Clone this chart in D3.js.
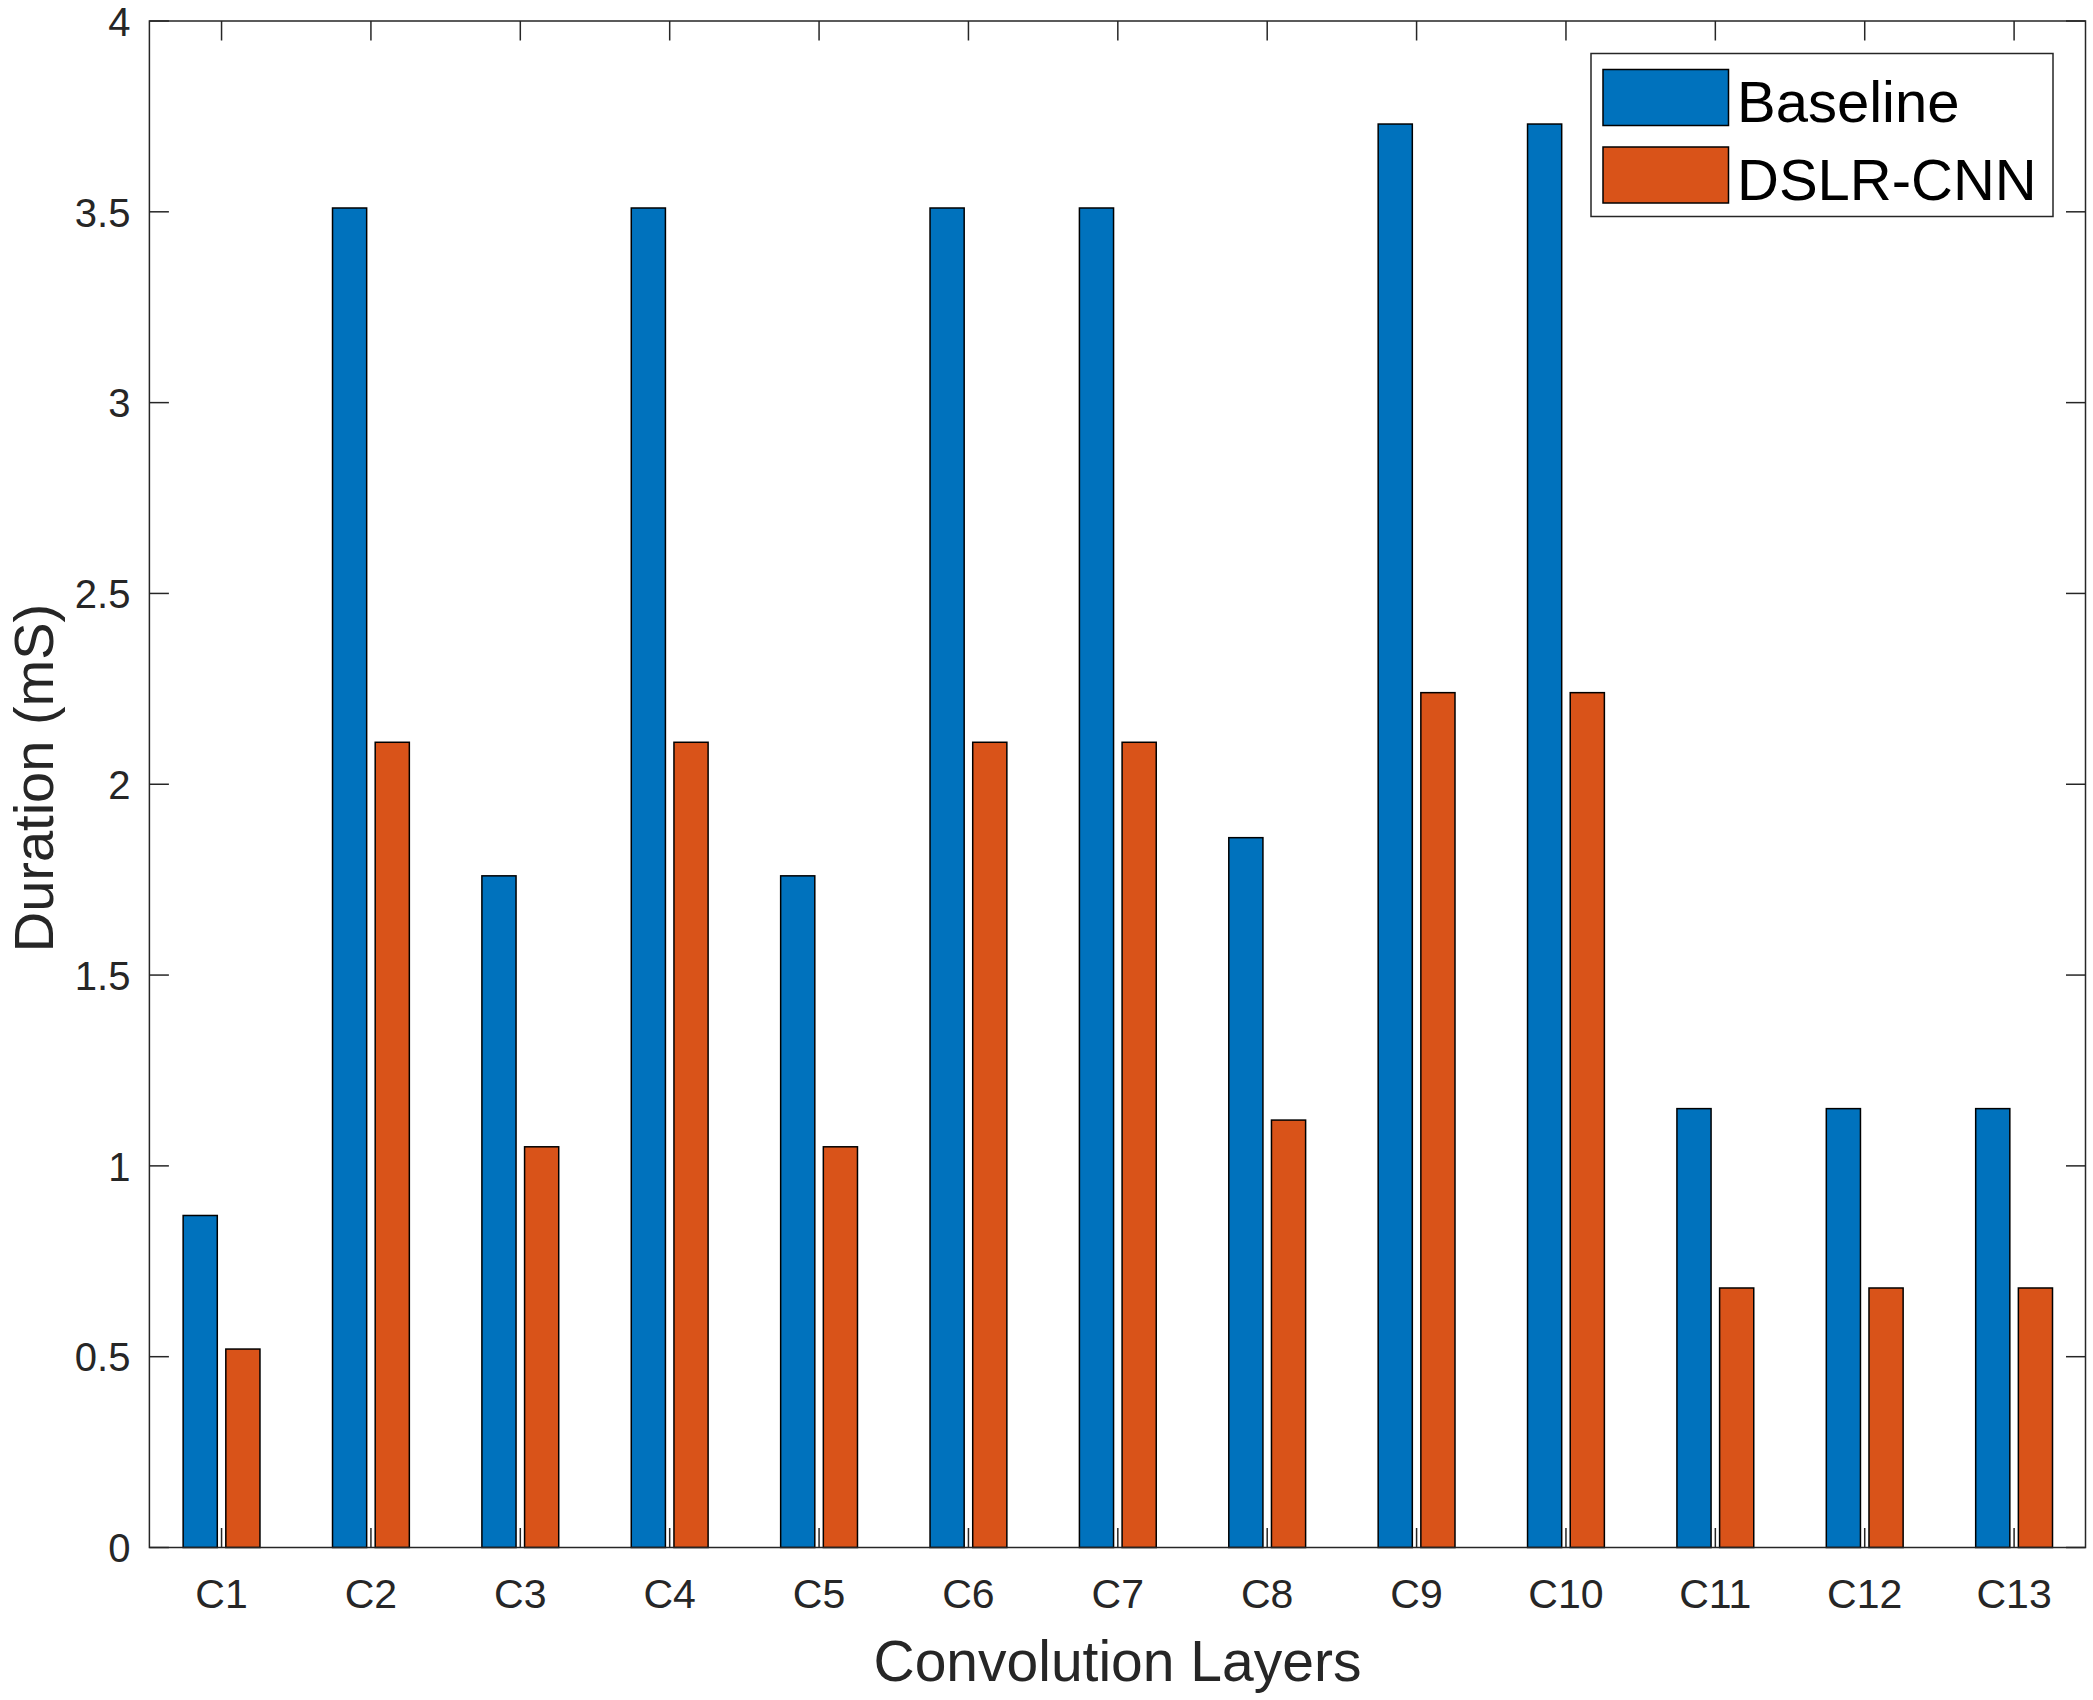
<!DOCTYPE html>
<html>
<head>
<meta charset="utf-8">
<script src="https://cdn.jsdelivr.net/npm/d3@7"></script>
<style>
  html, body { margin: 0; padding: 0; background: #fff; }
  svg { display: block; }
  text { font-family: "Liberation Sans", Arial, Helvetica, sans-serif; }
</style>
</head>
<body>
<svg id="chart" width="2093" height="1700"></svg>
<script>
const categories = ["C1","C2","C3","C4","C5","C6","C7","C8","C9","C10","C11","C12","C13"];
const baselineValues = [0.87, 3.51, 1.76, 3.51, 1.76, 3.51, 3.51, 1.86, 3.73, 3.73, 1.15, 1.15, 1.15];
const dslrValues     = [0.52, 2.11, 1.05, 2.11, 1.05, 2.11, 2.11, 1.12, 2.24, 2.24, 0.68, 0.68, 0.68];
const seriesNames = ["Baseline", "DSLR-CNN"];
const seriesColors = ["#0072BD", "#D95319"];
const yTicks = [0, 0.5, 1, 1.5, 2, 2.5, 3, 3.5, 4];
const yTickLabels = ["0", "0.5", "1", "1.5", "2", "2.5", "3", "3.5", "4"];
const xTitle = "Convolution Layers";
const yTitle = "Duration (mS)";

const svg = d3.select("#chart");
const L = 149.4, R = 2085.5, T = 21, B = 1547.5;
const axisColor = "#262626";

const x = d3.scaleLinear().domain([0.517, 13.478]).range([L, R]);
const y = d3.scaleLinear().domain([0, 4]).range([B, T]);

// MATLAB grouped bar geometry (2 series)
const groupWidth = Math.min(0.8, 2 / (2 + 1.5));
const barW = groupWidth / 2 * 0.8;
const offsets = [-groupWidth / 4, groupWidth / 4];

const series = [baselineValues, dslrValues];
const gBars = svg.append("g");
series.forEach((vals, si) => {
  gBars.selectAll(null).data(vals).enter().append("rect")
    .attr("x", (d, i) => x(i + 1 + offsets[si] - barW / 2))
    .attr("width", (d, i) => x(i + 1 + offsets[si] + barW / 2) - x(i + 1 + offsets[si] - barW / 2))
    .attr("y", d => y(d))
    .attr("height", d => y(0) - y(d))
    .attr("fill", seriesColors[si])
    .attr("stroke", "#000")
    .attr("stroke-width", 1.5);
});

// axes box
const gAx = svg.append("g");
gAx.append("rect").attr("x", L).attr("y", T).attr("width", R - L).attr("height", B - T)
  .attr("fill", "none").attr("stroke", axisColor).attr("stroke-width", 1.5);

const tickLen = 19.5;
// y ticks left & right, inward
yTicks.forEach((t, i) => {
  gAx.append("line").attr("x1", L).attr("x2", L + tickLen).attr("y1", y(t)).attr("y2", y(t))
    .attr("stroke", axisColor).attr("stroke-width", 1.5);
  gAx.append("line").attr("x1", R).attr("x2", R - tickLen).attr("y1", y(t)).attr("y2", y(t))
    .attr("stroke", axisColor).attr("stroke-width", 1.5);
  gAx.append("text").attr("x", L - 19).attr("y", y(t)).attr("dy", "0.37em")
    .attr("text-anchor", "end").attr("font-size", 40).attr("fill", axisColor)
    .text(yTickLabels[i]);
});

// x ticks bottom & top, inward
categories.forEach((c, i) => {
  const cx = x(i + 1);
  gAx.append("line").attr("x1", cx).attr("x2", cx).attr("y1", B).attr("y2", B - tickLen)
    .attr("stroke", axisColor).attr("stroke-width", 1.5);
  gAx.append("line").attr("x1", cx).attr("x2", cx).attr("y1", T).attr("y2", T + tickLen)
    .attr("stroke", axisColor).attr("stroke-width", 1.5);
  gAx.append("text").attr("x", cx).attr("y", 1608)
    .attr("text-anchor", "middle").attr("font-size", 41).attr("fill", axisColor)
    .text(c);
});

// axis titles
svg.append("text").attr("x", (L + R) / 2).attr("y", 1681)
  .attr("text-anchor", "middle").attr("font-size", 57).attr("fill", axisColor)
  .text(xTitle);
svg.append("text").attr("transform", `translate(53,778) rotate(-90)`)
  .attr("text-anchor", "middle").attr("font-size", 56).attr("fill", axisColor)
  .text(yTitle);

// legend
const lg = svg.append("g");
lg.append("rect").attr("x", 1591).attr("y", 53.5).attr("width", 462).attr("height", 163)
  .attr("fill", "#fff").attr("stroke", axisColor).attr("stroke-width", 1.5);
seriesNames.forEach((name, i) => {
  const top = [69.5, 147][i];
  lg.append("rect").attr("x", 1603).attr("y", top).attr("width", 125.5).attr("height", 56)
    .attr("fill", seriesColors[i]).attr("stroke", "#000").attr("stroke-width", 1.5);
  lg.append("text").attr("x", 1737).attr("y", [122, 200][i])
    .attr("font-size", 58).attr("fill", "#000").text(name);
});
</script>
</body>
</html>
